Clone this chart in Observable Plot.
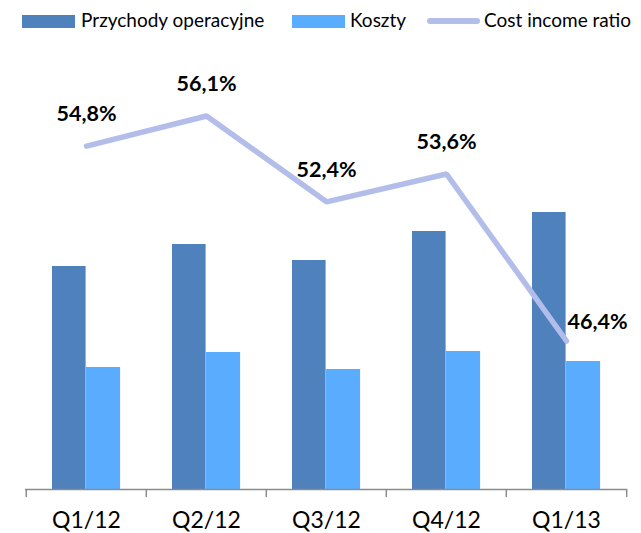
<!DOCTYPE html>
<html>
<head>
<meta charset="utf-8">
<script src="https://cdn.jsdelivr.net/npm/d3@7"></script>
<script src="https://cdn.jsdelivr.net/npm/@observablehq/plot@0.6"></script>
<style>
  html, body { margin: 0; padding: 0; background: #fff; }
  #wrap { width: 641px; font-family: Lato, "Open Sans", sans-serif; }
  #legend { position: relative; height: 38px; width: 641px; font-size: 19px; color: #000; }
  #legend .sw { position: absolute; top: 15px; width: 53px; height: 13px; }
  #legend .ln { position: absolute; top: 18px; width: 53px; height: 6px; border-radius: 3px; }
  #legend .lb { position: absolute; top: 8px; line-height: 24px; white-space: nowrap; }
</style>
</head>
<body>
<div id="wrap">
  <div id="legend"></div>
  <div id="chart"></div>
</div>
<script>
const quarters = ["Q1/12", "Q2/12", "Q3/12", "Q4/12", "Q1/13"];
const przychody = [223, 245, 229, 258, 277];
const koszty = [122, 137, 120, 138, 128];
const costIncome = [54.8, 56.1, 52.4, 53.6, 46.4];
const seriesNames = ["Przychody operacyjne", "Koszty", "Cost income ratio"];
const colors = ["#4F81BD", "#5AACFF", "#B3BDEA"];

// Secondary axis for the ratio: 40%..60% mapped onto the bar axis span
const ratioMin = 40, ratioMax = 60, barSpanForRatio = 464;
const toBarUnits = r => (r - ratioMin) / (ratioMax - ratioMin) * barSpanForRatio;

const data = quarters.map((q, i) => ({q, rev: przychody[i], cost: koszty[i], ratio: costIncome[i]}));
const label = r => r.toFixed(1).replace(".", ",") + "%";

// Legend
const legend = document.getElementById("legend");
const legendX = [{sw: 22, lb: 81}, {sw: 292, lb: 350}, {sw: 427, lb: 484}];
seriesNames.forEach((name, i) => {
  const s = document.createElement("div");
  s.className = i === 2 ? "ln" : "sw";
  s.style.left = legendX[i].sw + "px";
  s.style.background = colors[i];
  legend.appendChild(s);
  const t = document.createElement("div");
  t.className = "lb";
  t.style.left = legendX[i].lb + "px";
  t.textContent = name;
  legend.appendChild(t);
});

const W = 641, mL = 25, mR = 14;
const bw = (W - mL - mR) / quarters.length;

const chart = Plot.plot({
  width: W,
  height: 495,
  marginLeft: mL,
  marginRight: mR,
  marginTop: 0,
  marginBottom: 44,
  style: {fontFamily: "Lato, 'Open Sans', sans-serif", background: "#fff"},
  x: {domain: quarters, padding: 0, label: null},
  y: {domain: [0, 451], axis: null},
  marks: [
    Plot.barY(data, {x: "q", y: "rev", fill: colors[0], insetLeft: 26, insetRight: bw - 60}),
    Plot.barY(data, {x: "q", y: "cost", fill: colors[1], insetLeft: 60, insetRight: bw - 94.5}),
    Plot.ruleY([0], {stroke: "#8c8c8c", strokeWidth: 1.5}),
    Plot.ruleX(quarters, {x: d => d, y1: 0, y2: -8, dx: -bw / 2, stroke: "#8c8c8c", strokeWidth: 1.5}),
    Plot.ruleX(quarters.slice(-1), {x: d => d, y1: 0, y2: -8, dx: bw / 2, stroke: "#8c8c8c", strokeWidth: 1.5}),
    Plot.lineY(data, {x: "q", y: d => toBarUnits(d.ratio), stroke: colors[2], strokeWidth: 5.5, strokeLinecap: "round", strokeLinejoin: "miter"}),
    Plot.text(data.slice(0, 4), {x: "q", y: d => toBarUnits(d.ratio), text: d => label(d.ratio), dy: -32, fontSize: 21.5, fontWeight: "bold", fill: "#000"}),
    Plot.text(data.slice(4), {x: "q", y: d => toBarUnits(d.ratio), text: d => label(d.ratio), dy: -19, dx: 1, textAnchor: "start", fontSize: 21.5, fontWeight: "bold", fill: "#000"}),
    Plot.axisX({tickSize: 0, tickPadding: 22, fontSize: 23, fill: "#000", label: null})
  ]
});
document.getElementById("chart").appendChild(chart);
</script>
</body>
</html>
